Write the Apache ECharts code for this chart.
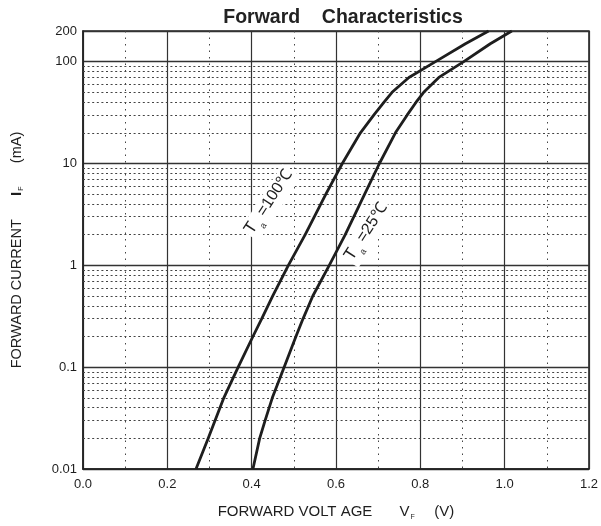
<!DOCTYPE html>
<html>
<head>
<meta charset="utf-8">
<script src="https://cdn.jsdelivr.net/npm/echarts@6/dist/echarts.min.js"></script>
<style>
  html, body { margin: 0; padding: 0; background: #fff; }
  #chart { width: 601px; height: 526px; }
</style>
</head>
<body>
<div id="chart"></div>
<script>
// Ta = 100 ℃ curve (VF in V, IF in mA)
const vf100 = [0.268, 0.297, 0.334, 0.368, 0.403, 0.424, 0.450, 0.487, 0.527, 0.576, 0.615, 0.658, 0.690, 0.714, 0.733, 0.773, 0.836, 0.907, 0.962]
const if100 = [0.01, 0.02, 0.05, 0.1, 0.2, 0.3, 0.5, 1, 2, 5, 10, 20, 30, 40, 50, 70, 100, 150, 200]

// Ta = 25 ℃ curve
const vf25 = [0.403, 0.419, 0.432, 0.449, 0.477, 0.505, 0.522, 0.545, 0.584, 0.622, 0.668, 0.703, 0.741, 0.769, 0.790, 0.808, 0.844, 0.903, 0.966, 1.017]
const if25 = [0.01, 0.02, 0.03, 0.05, 0.1, 0.2, 0.3, 0.5, 1, 2, 5, 10, 20, 30, 40, 50, 70, 100, 150, 200]

// dotted minor grid lines of the log axis
const minorCurrents = [
  0.02, 0.03, 0.04, 0.05, 0.06, 0.07, 0.08, 0.09,
  0.2, 0.3, 0.4, 0.5, 0.6, 0.7, 0.8, 0.9,
  2, 3, 4, 5, 6, 7, 8, 9,
  20, 30, 40, 50, 60, 70, 80, 90,
]

// where the curve names sit (VF, IF)
const label100At = [0.445, 4.1]
const label25At = [0.676, 2.09]

const font = "'Liberation Sans', Arial, sans-serif"
const ink = '#1e1e1e'

function pairs(xs, ys) {
  return xs.map((x, i) => [x, ys[i]])
}

function curveLabel(text) {
  return {
    show: true,
    position: 'inside',
    rotate: 57,
    backgroundColor: '#fff',
    padding: [0, 2],
    fontFamily: font,
    formatter: text,
    rich: {
      t: { fontSize: 17, color: ink, fontFamily: font, verticalAlign: 'bottom', padding: [0, 0, 5, 0] },
      s: { fontSize: 9, color: ink, fontFamily: font, verticalAlign: 'bottom', padding: [0, 1, 0, 1] },
      n: { fontSize: 16, color: ink, fontFamily: font, verticalAlign: 'bottom', padding: [0, 0, 5, 0] },
    },
  }
}

function curveName(coord, text) {
  return {
    coord,
    symbol: 'circle',
    symbolSize: 1,
    itemStyle: { color: 'rgba(0,0,0,0)' },
    label: curveLabel(text),
  }
}

const chart = echarts.init(document.getElementById('chart'))

chart.setOption({
  animation: false,
  backgroundColor: '#fff',
  title: {
    text: 'Forward    Characteristics',
    left: 338,
    textAlign: 'center',
    top: 3,
    textStyle: {
      fontFamily: font,
      fontSize: 19.5,
      fontWeight: 'bold',
      color: '#222',
    },
  },
  grid: {
    left: 83,
    right: 11,
    top: 31,
    bottom: 54,
    show: true,
    borderColor: '#222',
    borderWidth: 1.5,
  },
  xAxis: {
    type: 'value',
    min: 0,
    max: 1.2,
    interval: 0.2,
    name: '{n|FORWARD VOLT AGE}{g|       }{v|V}{s|F}{g|     }{n|(V)}',
    nameLocation: 'middle',
    nameGap: 34,
    nameTextStyle: {
      rich: {
        n: { fontSize: 15, color: ink, fontFamily: font },
        v: { fontSize: 15, color: ink, fontFamily: font },
        s: { fontSize: 7, color: ink, fontFamily: font, padding: [11, 0, 0, 1] },
        g: { fontSize: 14 },
      },
    },
    axisLine: { lineStyle: { color: '#222', width: 1.5 } },
    axisTick: { show: false },
    axisLabel: {
      margin: 9,
      fontSize: 13,
      fontFamily: font,
      color: ink,
      formatter: (v) => v.toFixed(1),
    },
    splitLine: { show: true, lineStyle: { color: '#333', width: 1.2 } },
    minorTick: { show: false, splitNumber: 2 },
    minorSplitLine: { show: true, lineStyle: { color: '#444', width: 1, type: [1.5, 5] } },
  },
  yAxis: {
    type: 'log',
    logBase: 10,
    min: 0.01,
    max: 200,
    name: '{n|FORWARD CURRENT}{g|      }{i|I}{s|F}{g|      }{n|(mA)}',
    nameLocation: 'middle',
    nameGap: 58,
    nameTextStyle: {
      rich: {
        n: { fontSize: 14.5, color: ink, fontFamily: font },
        i: { fontSize: 15, color: ink, fontFamily: font, fontWeight: 'bold' },
        s: { fontSize: 7, color: ink, fontFamily: font, padding: [10, 0, 0, 1] },
        g: { fontSize: 14 },
      },
    },
    axisLine: { lineStyle: { color: '#222', width: 1.5 } },
    axisTick: { show: false },
    axisLabel: {
      margin: 6,
      fontSize: 13,
      fontFamily: font,
      color: ink,
      formatter: (v) => String(Number(v.toPrecision(6))),
    },
    splitLine: { show: true, lineStyle: { color: '#333', width: 1.4 } },
  },
  series: [
    {
      name: 'Ta=100',
      type: 'line',
      data: pairs(vf100, if100),
      smooth: false,
      symbol: 'none',
      z: 5,
      lineStyle: { color: ink, width: 2.8, join: 'round' },
      markLine: {
        silent: true,
        symbol: 'none',
        label: { show: false },
        lineStyle: { color: '#444', width: 1, type: [2, 2.6] },
        data: minorCurrents.map((v) => ({ yAxis: v })),
        z: 1,
      },
      markPoint: {
        silent: true,
        z: 3,
        data: [curveName(label100At, '{t|T}{s|a}{n| =100℃}')],
      },
    },
    {
      name: 'Ta=25',
      type: 'line',
      data: pairs(vf25, if25),
      smooth: false,
      symbol: 'none',
      z: 5,
      lineStyle: { color: ink, width: 2.8, join: 'round' },
      markPoint: {
        silent: true,
        z: 3,
        data: [curveName(label25At, '{t|T}{s|a}{n| =25℃}')],
      },
    },
  ],
})
</script>
</body>
</html>
